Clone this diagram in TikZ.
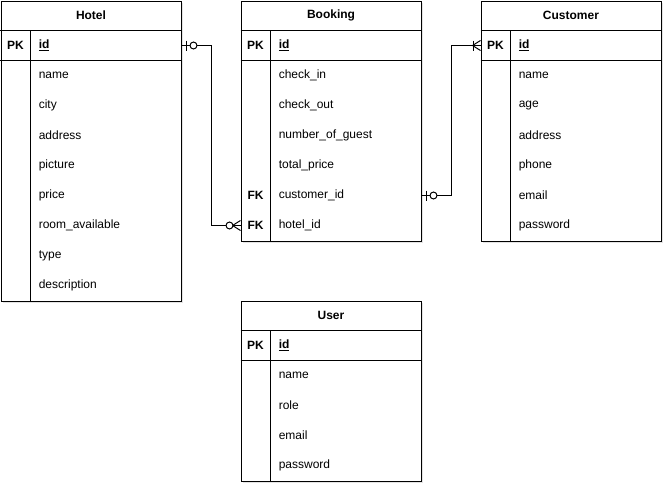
\documentclass[tikz,border=0pt]{standalone}
\usepackage{fontspec}
\setmainfont{Liberation Sans}
\usetikzlibrary{shadows,calc}

\newcommand{\erfont}{\fontsize{9}{11}\selectfont}

\tikzset{
  tbl/.style={draw, fill=white, anchor=north west, minimum width=135pt, inner sep=0pt,
    line width=0.75pt, drop shadow={shadow xshift=1.6pt, shadow yshift=-1.6pt, opacity=0.22}},
  title/.style={font=\erfont\bfseries},
  key/.style={font=\erfont\bfseries},
  pkfield/.style={anchor=west, inner sep=0pt, font=\erfont\bfseries},
  field/.style={anchor=west, inner sep=0pt, font=\erfont},
  rel/.style={line width=0.75pt},
  ring/.style={draw, fill=white, line width=0.75pt},
}

\begin{document}
\begin{tikzpicture}[x=0.75pt, y=-0.75pt]
\useasboundingbox (0,0) rectangle (672,493);

% Hotel table
\node[tbl, minimum height=225pt] (hotel) at (0.5,0.5) {};
\draw[rel] (hotel.north west) ++(0,30) -- ++(180,0);
\draw[rel] (hotel.north west) ++(0,60) -- ++(180,0);
\draw[rel] ($(hotel.north west)+(30,30)$) -- ($(hotel.south west)+(30,0)$);
\node[title] (hotel-title) at ($(hotel.north)+(0,15)$) {Hotel};
\node[key] (hotel-pk) at ($(hotel.north west)+(15,45)$) {PK};
\node[pkfield] (hotel-id) at ($(hotel.north west)+(38,45)$) {\underline{id}};
\foreach \f [count=\i] in {name,city,address,picture,price,room\_available,type,description}
  \node[field] (hotel-\i) at ($(hotel.north west)+(38,45+30*\i)$) {\f};

% Booking table
\node[tbl, minimum height=180pt] (booking) at (240.5,0.5) {};
\draw[rel] (booking.north west) ++(0,30) -- ++(180,0);
\draw[rel] (booking.north west) ++(0,60) -- ++(180,0);
\draw[rel] ($(booking.north west)+(30,30)$) -- ($(booking.south west)+(30,0)$);
\node[title] (booking-title) at ($(booking.north)+(0,15)$) {Booking};
\node[key] (booking-pk) at ($(booking.north west)+(15,45)$) {PK};
\node[pkfield] (booking-id) at ($(booking.north west)+(38,45)$) {\underline{id}};
\foreach \f [count=\i] in {check\_in,check\_out,number\_of\_guest,total\_price,customer\_id,hotel\_id}
  \node[field] (booking-\i) at ($(booking.north west)+(38,45+30*\i)$) {\f};
\node[key] (booking-fk5) at ($(booking.north west)+(15,195)$) {FK};
\node[key] (booking-fk6) at ($(booking.north west)+(15,225)$) {FK};

% Customer table
\node[tbl, minimum height=180pt] (customer) at (480.5,0.5) {};
\draw[rel] (customer.north west) ++(0,30) -- ++(180,0);
\draw[rel] (customer.north west) ++(0,60) -- ++(180,0);
\draw[rel] ($(customer.north west)+(30,30)$) -- ($(customer.south west)+(30,0)$);
\node[title] (customer-title) at ($(customer.north)+(0,15)$) {Customer};
\node[key] (customer-pk) at ($(customer.north west)+(15,45)$) {PK};
\node[pkfield] (customer-id) at ($(customer.north west)+(38,45)$) {\underline{id}};
\foreach \f [count=\i] in {name,age,address,phone,email,password}
  \node[field] (customer-\i) at ($(customer.north west)+(38,45+30*\i)$) {\f};

% User table
\node[tbl, minimum height=135pt] (user) at (240.5,300.5) {};
\draw[rel] (user.north west) ++(0,30) -- ++(180,0);
\draw[rel] (user.north west) ++(0,60) -- ++(180,0);
\draw[rel] ($(user.north west)+(30,30)$) -- ($(user.south west)+(30,0)$);
\node[title] (user-title) at ($(user.north)+(0,15)$) {User};
\node[key] (user-pk) at ($(user.north west)+(15,45)$) {PK};
\node[pkfield] (user-id) at ($(user.north west)+(38,45)$) {\underline{id}};
\foreach \f [count=\i] in {name,role,email,password}
  \node[field] (user-\i) at ($(user.north west)+(38,45+30*\i)$) {\f};

% Hotel -- Booking (zero or one to zero or many)
\draw[rel] (hotel.east |- hotel-id) -- ++(30,0) |- (booking.west |- booking-6);
\draw[rel] ($(hotel.east |- hotel-id)+(5,-5)$) -- ++(0,10);
\draw[ring] ($(hotel.east |- hotel-id)+(12,0)$) circle[radius=2.6pt];
\draw[rel] ($(booking.west |- booking-6)+(-8,0)$) -- ++(8,-5)
           ($(booking.west |- booking-6)+(-8,0)$) -- ++(8,5);
\draw[ring] ($(booking.west |- booking-6)+(-11,0)$) circle[radius=2.6pt];

% Booking -- Customer (zero or one to one or many)
\draw[rel] (booking.east |- booking-5) -- ++(30,0) |- (customer.west |- customer-id);
\draw[rel] ($(booking.east |- booking-5)+(5,-5)$) -- ++(0,10);
\draw[ring] ($(booking.east |- booking-5)+(12,0)$) circle[radius=2.6pt];
\draw[rel] ($(customer.west |- customer-id)+(-7,-5)$) -- ++(0,10);
\draw[rel] ($(customer.west |- customer-id)+(-8,0)$) -- ++(8,-5)
           ($(customer.west |- customer-id)+(-8,0)$) -- ++(8,5);
\end{tikzpicture}
\end{document}
